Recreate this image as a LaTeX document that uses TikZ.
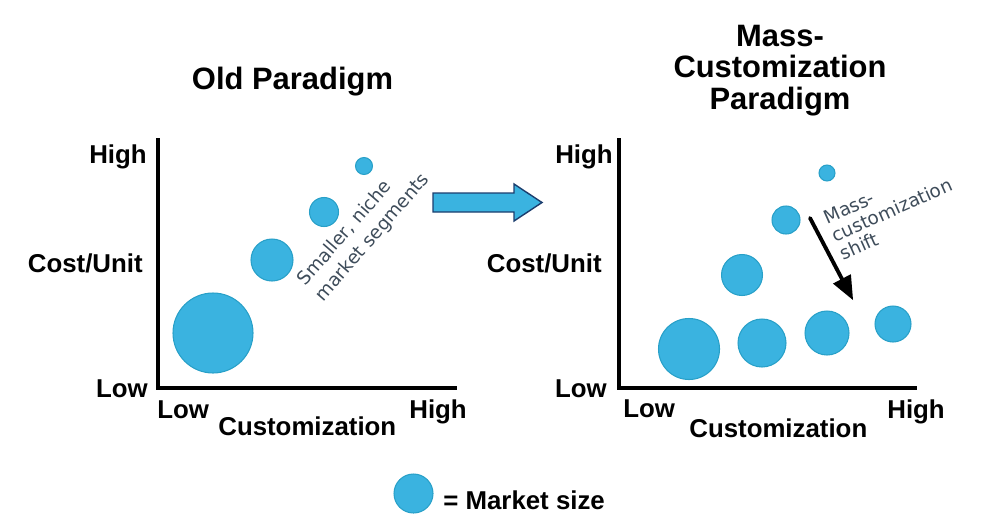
\documentclass[tikz,border=0pt]{standalone}
\usepackage{fontspec}
\setmainfont{Liberation Sans}
\newfontfamily\notefont{DejaVu Sans}
\usetikzlibrary{arrows}
\definecolor{bubblefill}{RGB}{58,179,224}
\definecolor{bubbleedge}{RGB}{40,160,200}
\definecolor{arrowedge}{RGB}{28,62,110}
\definecolor{notegray}{RGB}{62,76,90}

\begin{document}
\begin{tikzpicture}[line cap=round,line join=round,>=triangle 45,x=0.02cm,y=0.02cm,
  title/.style={font=\fontsize{17.6}{18}\selectfont\bfseries,align=center,inner sep=0},
  lab/.style={font=\fontsize{14.7}{16}\selectfont\bfseries,inner sep=0},
  note/.style={text=notegray,align=left,inner sep=0},
  bubble/.style={fill=bubblefill,draw=bubbleedge,line width=0.6pt},
  axis/.style={line width=2.2pt,line cap=butt,line join=miter}]
\useasboundingbox (0,0) rectangle (1000,-531);
% titles
\node[title,anchor=base] (oldtitle) at (292.5,-89) {Old Paradigm};
\node[title] (masstitle) at (780,-70.5) {Mass-\\Customization\\Paradigm};
% old paradigm chart
\draw[axis] (158,-138)--(158,-388)--(457,-388);
\node[lab,anchor=base east] (lhigh) at (147,-163) {High};
\node[lab,anchor=base east] (lcost) at (143,-272) {Cost/Unit};
\node[lab,anchor=base east] (llow) at (148,-397) {Low};
\node[lab,anchor=base west] (lxlow) at (157,-418) {Low};
\node[lab,anchor=base west] (lcust) at (218,-435) {Customization};
\node[lab,anchor=base west] (lxhigh) at (409,-418) {High};
\draw[bubble] (213,-333) circle (40);
\draw[bubble] (272,-260) circle (21);
\draw[bubble] (324,-212) circle (14.5);
\draw[bubble] (364,-166) circle (8.5);
\node[note,rotate=49,font=\notefont\fontsize{10.5}{13.6}\selectfont] (nichenote) at (364,-230) {Smaller, niche\\market segments};
% block arrow between the charts
\draw[fill=bubblefill,draw=arrowedge,line width=0.8pt,line join=miter] (433,-193)--(514,-193)--(514,-184)--(542,-202.5)--(514,-221)--(514,-212)--(433,-212)--cycle;
% mass customization chart
\draw[axis] (619,-138)--(619,-388)--(917,-388);
\node[lab,anchor=base east] (rhigh) at (613,-163) {High};
\node[lab,anchor=base east] (rcost) at (602,-272) {Cost/Unit};
\node[lab,anchor=base east] (rlow) at (607,-397) {Low};
\node[lab,anchor=base west] (rxlow) at (623,-417) {Low};
\node[lab,anchor=base west] (rcust) at (689,-437) {Customization};
\node[lab,anchor=base west] (rxhigh) at (887,-418) {High};
\draw[bubble] (689,-349) circle (30.5);
\draw[bubble] (762,-343) circle (24);
\draw[bubble] (827,-333) circle (22);
\draw[bubble] (893,-324) circle (18);
\draw[bubble] (742,-275) circle (20.5);
\draw[bubble] (786,-220) circle (14);
\draw[bubble] (827,-173) circle (8);
\coordinate (shiftstart) at (810,-218);
\coordinate (shiftend) at (853,-300);
\draw[->,line width=2.2pt] (shiftstart)--(shiftend);
\node[note,rotate=24,font=\notefont\fontsize{10.5}{11.3}\selectfont] (shiftnote) at (892,-210) {Mass-\\customization\\shift};
% legend
\draw[bubble] (413.5,-493.5) circle (19.5);
\node[lab,anchor=base west] (legendtext) at (443,-509) {= Market size};
\end{tikzpicture}
\end{document}
